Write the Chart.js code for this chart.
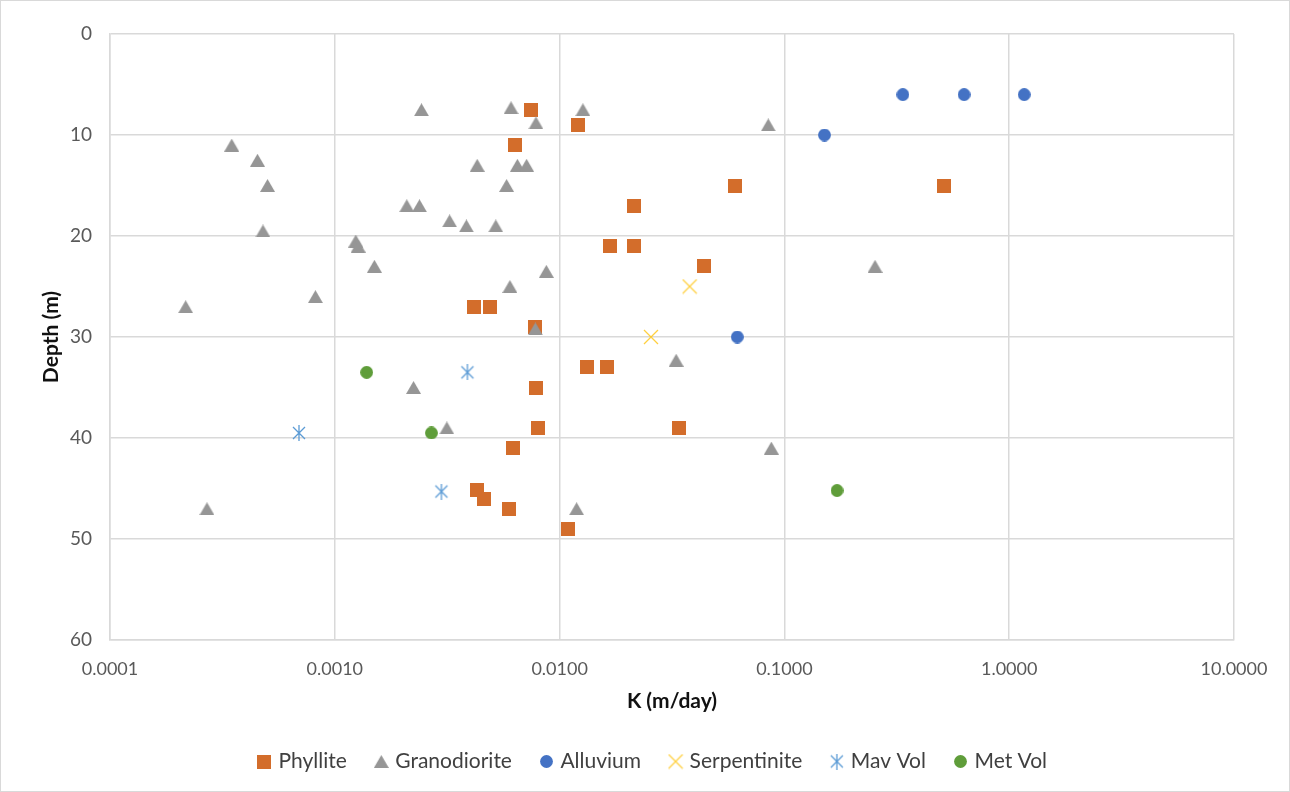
<!DOCTYPE html>
<html>
<head>
<meta charset="utf-8">
<script src="https://cdn.jsdelivr.net/npm/chart.js@4/dist/chart.umd.min.js"></script>
<style>
  html, body { margin: 0; padding: 0; background: #ffffff; }
  #wrap { width: 1288px; height: 790px; border: 1px solid #D9D9D9; position: relative; overflow: hidden; }
  canvas { display: block; position: absolute; left: -1px; top: -1px; }
</style>
</head>
<body>
<div id="wrap"><canvas id="c" width="1290" height="792"></canvas></div>
<script>
// ---------- data ----------
const seriesNames = ['Phyllite', 'Granodiorite', 'Alluvium', 'Serpentinite', 'Mav Vol', 'Met Vol'];

const phylliteK     = [0.00743, 0.01205, 0.00636, 0.0604, 0.513, 0.0215, 0.0167, 0.0215, 0.0437, 0.00416, 0.00492, 0.00776, 0.0133, 0.0163, 0.00787, 0.00803, 0.0338, 0.00622, 0.00428, 0.00459, 0.00596, 0.01087];
const phylliteDepth = [7.5, 9, 11, 15, 15, 17, 21, 21, 23, 27, 27, 29, 33, 33, 35, 39, 39, 41, 45.1, 46, 47, 49];

const granodioriteK     = [0.00243, 0.00608, 0.0127, 0.00785, 0.0848, 0.000348, 0.000453, 0.0043, 0.00649, 0.00713, 0.000502, 0.00581, 0.00209, 0.00238, 0.00324, 0.00385, 0.0052, 0.000479, 0.00124, 0.00127, 0.0015, 0.00873, 0.253, 0.00601, 0.00082, 0.000217, 0.0078, 0.033, 0.00224, 0.00315, 0.0875, 0.00027, 0.0119];
const granodioriteDepth = [7.5, 7.3, 7.5, 8.8, 9, 11, 12.5, 13, 13, 13, 15, 15, 17, 17, 18.5, 19, 19, 19.5, 20.5, 21, 23, 23.5, 23, 25, 26, 27, 29.2, 32.3, 35, 39, 41, 47, 47];

const alluviumK     = [0.3365, 0.63, 1.166, 0.1507, 0.0617];
const alluviumDepth = [6, 6, 6, 10, 30];

const serpentiniteK     = [0.0379, 0.0255];
const serpentiniteDepth = [25, 30];

const mavVolK     = [0.00389, 0.000693, 0.00298];
const mavVolDepth = [33.5, 39.5, 45.3];

const metVolK     = [0.001386, 0.00269, 0.1714];
const metVolDepth = [33.5, 39.5, 45.2];

const xTickValues = [0.0001, 0.001, 0.01, 0.1, 1, 10];
const xTickLabels = ['0.0001', '0.0010', '0.0100', '0.1000', '1.0000', '10.0000'];
const yTickValues = [0, 10, 20, 30, 40, 50, 60];

const xTitle = 'K (m/day)';
const yTitle = 'Depth (m)';

// ---------- styling ----------
const FONT = "Lato, 'Open Sans', sans-serif";
const LEGEND_SHIFT = 37;

function makeMarker(kind, color) {
  const sizes = { square: [14, 14], triangle: [15, 13], circle: [13, 13], x: [16, 16], star: [16, 16] };
  const s = sizes[kind];
  const c = document.createElement('canvas');
  c.width = s[0]; c.height = s[1];
  const g = c.getContext('2d');
  g.fillStyle = color; g.strokeStyle = color;
  g.beginPath();
  if (kind === 'square') {
    g.fillRect(0, 0, 14, 14);
  } else if (kind === 'triangle') {
    g.moveTo(7.5, 0); g.lineTo(15, 13); g.lineTo(0, 13); g.closePath(); g.fill();
  } else if (kind === 'circle') {
    g.arc(6.5, 6.5, 6.4, 0, Math.PI * 2); g.fill();
  } else if (kind === 'x') {
    g.lineWidth = 1.3;
    g.moveTo(1, 1); g.lineTo(15, 15); g.moveTo(15, 1); g.lineTo(1, 15); g.stroke();
  } else if (kind === 'star') {
    g.lineWidth = 1.3;
    g.moveTo(8, 0); g.lineTo(8, 16);
    g.moveTo(2, 2); g.lineTo(14, 14);
    g.moveTo(14, 2); g.lineTo(2, 14); g.stroke();
  }
  return c;
}

const styles = [
  { marker: makeMarker('square',   '#D36D2B'), color: '#D36D2B' },
  { marker: makeMarker('triangle', '#969696'), color: '#969696' },
  { marker: makeMarker('circle',   '#4472C4'), color: '#4472C4' },
  { marker: makeMarker('x',        'rgba(255,192,0,0.75)'), color: '#FFC000' },
  { marker: makeMarker('star',     '#5B9BD5'), color: '#5B9BD5' },
  { marker: makeMarker('circle',   '#5F9D3A'), color: '#5F9D3A' },
];

const seriesK = [phylliteK, granodioriteK, alluviumK, serpentiniteK, mavVolK, metVolK];
const seriesDepth = [phylliteDepth, granodioriteDepth, alluviumDepth, serpentiniteDepth, mavVolDepth, metVolDepth];

const datasets = seriesNames.map((name, i) => ({
  label: name,
  data: seriesK[i].map((k, j) => ({ x: k, y: seriesDepth[i][j] })),
  pointStyle: styles[i].marker,
  pointRadius: 7,
  pointHoverRadius: 7,
  backgroundColor: styles[i].color,
  borderColor: styles[i].color,
  showLine: false,
  order: seriesNames.length - i
}));

const legendShift = {
  id: 'legendShift',
  afterLayout(chart) {
    if (chart.legend) {
      chart.legend.left += LEGEND_SHIFT;
      chart.legend.right += LEGEND_SHIFT;
    }
  }
};

new Chart(document.getElementById('c'), {
  type: 'scatter',
  data: { datasets },
  plugins: [legendShift],
  options: {
    responsive: false,
    animation: false,
    devicePixelRatio: 1,
    layout: { padding: { top: 34, right: 56, bottom: 10, left: 0 } },
    plugins: {
      tooltip: { enabled: false },
      legend: {
        position: 'bottom',
        labels: {
          usePointStyle: true,
          boxWidth: 7,
          boxHeight: 14,
          padding: 31,
          color: '#404040',
          font: { family: FONT, size: 21 },
          sort: (a, b) => a.datasetIndex - b.datasetIndex
        }
      }
    },
    scales: {
      x: {
        type: 'logarithmic',
        min: xTickValues[0],
        max: xTickValues[xTickValues.length - 1],
        afterBuildTicks: (s) => { s.ticks = xTickValues.map(v => ({ value: v })); },
        afterFit: (s) => { s.height = 80; },
        ticks: {
          autoSkip: false,
          maxRotation: 0,
          padding: 18,
          color: '#595959',
          font: { family: FONT, size: 18 },
          callback: (v, i) => xTickLabels[i]
        },
        grid: { color: '#D9D9D9', lineWidth: 1.5, drawTicks: false },
        border: { color: '#D9D9D9', width: 1.5 },
        title: {
          display: true,
          text: xTitle,
          color: '#111111',
          font: { family: FONT, size: 21, weight: 'bold' },
          padding: { top: 0, bottom: 6 }
        }
      },
      y: {
        type: 'linear',
        reverse: true,
        min: yTickValues[0],
        max: yTickValues[yTickValues.length - 1],
        afterBuildTicks: (s) => { s.ticks = yTickValues.map(v => ({ value: v })); },
        afterFit: (s) => { s.width = 110; },
        ticks: {
          padding: 18,
          color: '#595959',
          font: { family: FONT, size: 19 }
        },
        grid: { color: '#D9D9D9', lineWidth: 1.5, drawTicks: false },
        border: { color: '#D9D9D9', width: 1.5 },
        title: {
          display: true,
          text: yTitle,
          color: '#111111',
          font: { family: FONT, size: 21, weight: 'bold' },
          padding: { top: 39, bottom: 0 }
        }
      }
    }
  }
});
</script>
</body>
</html>
